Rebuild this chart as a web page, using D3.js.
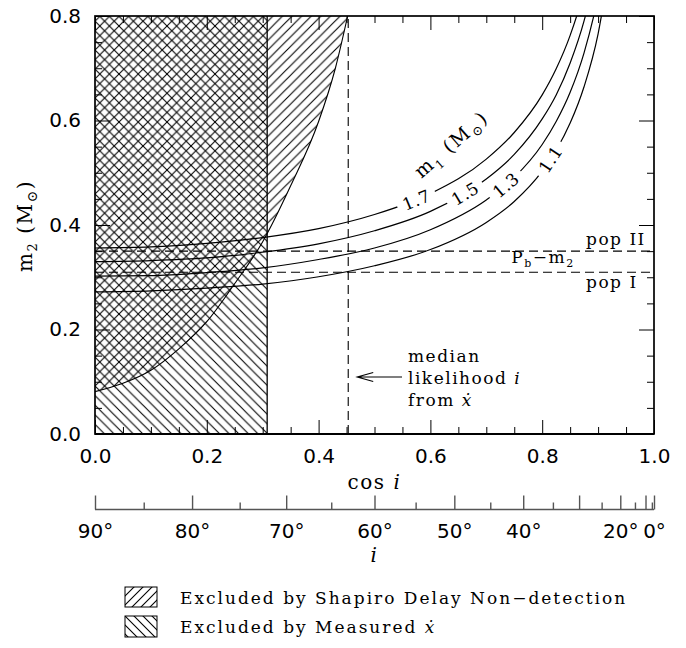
<!DOCTYPE html>
<html>
<head>
<meta charset="utf-8">
<script src="https://cdn.jsdelivr.net/npm/d3@7"></script>
<style>
  body { margin: 0; background: #fff; }
  .serif { font-family: "DejaVu Serif", serif; font-size: 17px; letter-spacing: 1.5px; fill: #000; }
  .tick text { font-family: "DejaVu Sans", sans-serif; font-size: 20px; fill: #000; }
  .tick line { stroke: #000; stroke-width: 1; }
</style>
</head>
<body>
<svg id="chart" width="686" height="648"></svg>
<script>
// ---- data ----
var cosGrid = [0, 0.1, 0.2, 0.3, 0.4, 0.5, 0.6, 0.7, 0.75, 0.8, 0.825, 0.85, 0.875, 0.9, 0.925];
var m2For11 = [0.272, 0.274, 0.279, 0.287, 0.301, 0.322, 0.353, 0.405, 0.445, 0.503, 0.543, 0.595, 0.665, 0.766, 0.930];
var m2For13 = [0.302, 0.303, 0.309, 0.318, 0.334, 0.356, 0.391, 0.448, 0.491, 0.554, 0.598, 0.654, 0.730, 0.839, 1.010];
var m2For15 = [0.330, 0.332, 0.337, 0.348, 0.364, 0.389, 0.426, 0.488, 0.535, 0.603, 0.649, 0.710, 0.791, 0.908, 1.096];
var m2For17 = [0.356, 0.358, 0.365, 0.376, 0.393, 0.420, 0.460, 0.526, 0.577, 0.649, 0.699, 0.763, 0.849, 0.974, 1.174];
var m1Names = ["1.1", "1.3", "1.5", "1.7"];
var m1LabelCos = [0.815, 0.735, 0.662, 0.575];

var shapiroCos = [0, 0.05, 0.10, 0.15, 0.20, 0.25, 0.30, 0.35, 0.40, 0.43, 0.452];
var shapiroM2 = [0.081, 0.097, 0.122, 0.163, 0.215, 0.288, 0.368, 0.475, 0.598, 0.700, 0.80];

var xdotCosMax = 0.308;   // excluded by measured xdot: cos i < this
var medianCos = 0.453;    // median likelihood i from xdot
var popII = 0.350;
var popI = 0.3095;

var xTicks = [0, 0.2, 0.4, 0.6, 0.8, 1.0];
var xMinor = [0.05, 0.1, 0.15, 0.25, 0.3, 0.35, 0.45, 0.5, 0.55, 0.65, 0.7, 0.75, 0.85, 0.9, 0.95];
var yTicks = [0, 0.2, 0.4, 0.6, 0.8];
var yMinor = [0.05, 0.1, 0.15, 0.25, 0.3, 0.35, 0.45, 0.5, 0.55, 0.65, 0.7, 0.75];
var iMajor = [90, 80, 70, 60, 50, 40, 30, 20, 10, 0];
var iMinor = [85, 75, 65, 55, 45, 35, 25, 15, 5];
var iLabelled = [90, 80, 70, 60, 50, 40, 20, 0];

// ---- layout ----
var svg = d3.select("#chart");
var plotL = 95, plotR = 654, plotT = 16, plotB = 434;

var x = d3.scaleLinear().domain([0, 1]).range([plotL, plotR]);
var y = d3.scaleLinear().domain([0, 0.8]).range([plotB, plotT]);
var rad = Math.PI / 180;

var defs = svg.append("defs");
defs.append("clipPath").attr("id", "plotClip")
  .append("rect").attr("x", plotL).attr("y", plotT).attr("width", plotR - plotL).attr("height", plotB - plotT);

// hatch patterns: dir 1 = "/", dir -1 = "\"
function hatch(id, dir, ox, oy, s) {
  var p = defs.append("pattern").attr("id", id)
    .attr("patternUnits", "userSpaceOnUse")
    .attr("x", ox).attr("y", oy).attr("width", s).attr("height", s);
  var d;
  if (dir > 0) {
    d = "M0," + s + "L" + s + ",0M-1,1L1,-1M" + (s - 1) + "," + (s + 1) + "L" + (s + 1) + "," + (s - 1);
  } else {
    d = "M0,0L" + s + "," + s + "M-1," + (s - 1) + "L1," + (s + 1) + "M" + (s - 1) + ",-1L" + (s + 1) + ",1";
  }
  p.append("path").attr("d", d).attr("stroke", "#000").attr("stroke-width", 1.1).attr("fill", "none");
}
hatch("hatchShapiro", 1, plotL, plotB, 9.6);
hatch("hatchXdot", -1, plotL, plotB, 9.6);
hatch("legShapiro", 1, 125, 587, 9);
hatch("legXdot", -1, 125, 616, 9);

var plot = svg.append("g").attr("clip-path", "url(#plotClip)");

// measured xdot exclusion
plot.append("rect")
  .attr("x", x(0)).attr("y", y(0.8))
  .attr("width", x(xdotCosMax) - x(0)).attr("height", y(0) - y(0.8))
  .attr("fill", "url(#hatchXdot)");
plot.append("line")
  .attr("x1", x(xdotCosMax)).attr("x2", x(xdotCosMax))
  .attr("y1", y(0)).attr("y2", y(0.8))
  .attr("stroke", "#000").attr("stroke-width", 1.3);

// Shapiro delay exclusion
var shapiroPts = shapiroCos.map(function(c, i) { return [c, shapiroM2[i]]; });
var line = d3.line()
  .x(function(d) { return x(d[0]); })
  .y(function(d) { return y(d[1]); })
  .curve(d3.curveMonotoneX);
plot.append("path")
  .attr("d", line(shapiroPts) + "L" + x(0) + "," + y(0.8) + "Z")
  .attr("fill", "url(#hatchShapiro)");
plot.append("path")
  .attr("d", line(shapiroPts))
  .attr("fill", "none").attr("stroke", "#000").attr("stroke-width", 1.1);

// dashed lines
plot.append("line")
  .attr("x1", x(medianCos)).attr("x2", x(medianCos))
  .attr("y1", y(0)).attr("y2", y(0.8))
  .attr("stroke", "#000").attr("stroke-width", 1.1).attr("stroke-dasharray", "9,5");
[popII, popI].forEach(function(v) {
  plot.append("line")
    .attr("x1", x(0)).attr("x2", x(1))
    .attr("y1", y(v)).attr("y2", y(v))
    .attr("stroke", "#000").attr("stroke-width", 1.1).attr("stroke-dasharray", "9,5");
});

// m1 curves
var series = [m2For11, m2For13, m2For15, m2For17];
series.forEach(function(vals, k) {
  var pts = cosGrid.map(function(c, i) { return [c, vals[i]]; });
  var path = plot.append("path")
    .attr("d", line(pts))
    .attr("fill", "none").attr("stroke", "#000").attr("stroke-width", 1.2);

  // put the label on the curve, following its slope
  var node = path.node(), L = node.getTotalLength(), tx = x(m1LabelCos[k]);
  var lo = 0, hi = L;
  for (var it = 0; it < 40; it++) {
    var mid = (lo + hi) / 2;
    if (node.getPointAtLength(mid).x < tx) lo = mid; else hi = mid;
  }
  var p = node.getPointAtLength(lo);
  var p1 = node.getPointAtLength(Math.max(0, lo - 4));
  var p2 = node.getPointAtLength(Math.min(L, lo + 4));
  var ang = Math.atan2(p2.y - p1.y, p2.x - p1.x) / rad;

  var g = svg.append("g").attr("transform", "translate(" + p.x + "," + p.y + ") rotate(" + ang + ")");
  var bg = g.append("rect").attr("fill", "#fff");
  var t = g.append("text").attr("class", "serif")
    .attr("text-anchor", "middle").attr("dy", "0.36em")
    .style("letter-spacing", "0.5px")
    .text(m1Names[k]);
  var w = t.node().getComputedTextLength() + 12;
  bg.attr("x", -w / 2).attr("y", -4).attr("width", w).attr("height", 8);
});

// m1 (Msun) label
var m1Lab = svg.append("text").attr("class", "serif")
  .attr("text-anchor", "middle")
  .attr("transform", "translate(" + x(0.645) + "," + y(0.545) + ") rotate(-41)")
  .style("font-size", "19px").style("letter-spacing", "2px");
m1Lab.append("tspan").text("m");
m1Lab.append("tspan").attr("dy", 5).style("font-size", "12px").text("1");
m1Lab.append("tspan").attr("dy", -5).text(" (M");
m1Lab.append("tspan").attr("dy", 5).style("font-size", "13px").text("\u2299");
m1Lab.append("tspan").attr("dy", -5).text(")");

// pop labels
svg.append("text").attr("class", "serif").attr("x", 586).attr("y", y(popII) - 6).text("pop II");
svg.append("text").attr("class", "serif").attr("x", 586).attr("y", y(popI) + 16).text("pop I");
var pbLab = svg.append("text").attr("class", "serif").attr("x", 543).attr("y", 263).attr("text-anchor", "middle");
pbLab.append("tspan").text("P");
pbLab.append("tspan").attr("dy", 4).style("font-size", "11px").text("b");
pbLab.append("tspan").attr("dy", -4).text("\u2212m");
pbLab.append("tspan").attr("dy", 4).style("font-size", "11px").text("2");

// median annotation + arrow
var ay = 377;
svg.append("path")
  .attr("d", "M402," + ay + "L" + (x(medianCos) + 9) + "," + ay +
             "M" + (x(medianCos) + 25) + "," + (ay - 4.5) + "L" + (x(medianCos) + 9) + "," + ay +
             "L" + (x(medianCos) + 25) + "," + (ay + 4.5))
  .attr("fill", "none").attr("stroke", "#000").attr("stroke-width", 1.1);
svg.append("text").attr("class", "serif").attr("x", 408).attr("y", 362).text("median");
var lk = svg.append("text").attr("class", "serif").attr("x", 408).attr("y", 384);
lk.append("tspan").text("likelihood ");
lk.append("tspan").style("font-style", "italic").text("i");
var fr = svg.append("text").attr("class", "serif").attr("x", 408).attr("y", 406);
fr.append("tspan").text("from ");
fr.append("tspan").style("font-style", "italic").text("\u1E8B");

// ---- axes ----
function styleAxis(g) { g.select(".domain").remove(); }

svg.append("g").attr("transform", "translate(0," + plotB + ")")
  .call(d3.axisBottom(x).tickValues(xTicks).tickSize(-14).tickPadding(15).tickFormat(d3.format(".1f")))
  .call(styleAxis);
svg.append("g").attr("transform", "translate(0," + plotB + ")")
  .call(d3.axisBottom(x).tickValues(xMinor).tickSize(-7).tickFormat(""))
  .call(styleAxis);
svg.append("g").attr("transform", "translate(0," + plotT + ")")
  .call(d3.axisTop(x).tickValues(xTicks).tickSize(-14).tickFormat(""))
  .call(styleAxis);
svg.append("g").attr("transform", "translate(0," + plotT + ")")
  .call(d3.axisTop(x).tickValues(xMinor).tickSize(-7).tickFormat(""))
  .call(styleAxis);
svg.append("g").attr("transform", "translate(" + plotL + ",0)")
  .call(d3.axisLeft(y).tickValues(yTicks).tickSize(-15).tickPadding(14).tickFormat(d3.format(".1f")))
  .call(styleAxis);
svg.append("g").attr("transform", "translate(" + plotL + ",0)")
  .call(d3.axisLeft(y).tickValues(yMinor).tickSize(-7).tickFormat(""))
  .call(styleAxis);
svg.append("g").attr("transform", "translate(" + plotR + ",0)")
  .call(d3.axisRight(y).tickValues(yTicks).tickSize(-15).tickFormat(""))
  .call(styleAxis);
svg.append("g").attr("transform", "translate(" + plotR + ",0)")
  .call(d3.axisRight(y).tickValues(yMinor).tickSize(-7).tickFormat(""))
  .call(styleAxis);

// frame
svg.append("rect")
  .attr("x", plotL).attr("y", plotT).attr("width", plotR - plotL).attr("height", plotB - plotT)
  .attr("fill", "none").attr("stroke", "#000").attr("stroke-width", 1.7);
svg.append("line").attr("x1", plotL).attr("x2", plotR).attr("y1", plotB).attr("y2", plotB)
  .attr("stroke", "#000").attr("stroke-width", 2.2);

// axis titles
var yt = svg.append("text").attr("class", "serif")
  .attr("transform", "translate(32," + 226 + ") rotate(-90)")
  .attr("text-anchor", "middle")
  .style("font-size", "20px").style("letter-spacing", "1.5px");
yt.append("tspan").text("m");
yt.append("tspan").attr("dy", 5).style("font-size", "13px").text("2");
yt.append("tspan").attr("dy", -5).text(" (M");
yt.append("tspan").attr("dy", 5).style("font-size", "14px").text("\u2299");
yt.append("tspan").attr("dy", -5).text(")");

var xt = svg.append("text").attr("class", "serif")
  .attr("x", x(0.5)).attr("y", 489).attr("text-anchor", "middle")
  .style("font-size", "20px").style("letter-spacing", "1.5px");
xt.append("tspan").text("cos ");
xt.append("tspan").style("font-style", "italic").text("i");

// inclination axis
var iy = 509.5;
var cosOf = function(d) { return Math.cos(d * rad); };
var iAxis = svg.append("g").attr("transform", "translate(0," + iy + ")")
  .call(d3.axisBottom(x).tickValues(iMajor.map(cosOf)).tickSize(-14).tickPadding(14)
    .tickFormat(function(c, i) { return iLabelled.indexOf(iMajor[i]) >= 0 ? iMajor[i] + "\u00B0" : ""; }))
  .call(styleAxis);
var iAxisMinor = svg.append("g").attr("transform", "translate(0," + iy + ")")
  .call(d3.axisBottom(x).tickValues(iMinor.map(cosOf)).tickSize(-7).tickFormat(""))
  .call(styleAxis);
iAxis.selectAll(".tick line").style("stroke", "#555").style("stroke-width", 1.4);
iAxisMinor.selectAll(".tick line").style("stroke", "#555").style("stroke-width", 1.4);
svg.append("line").attr("x1", plotL).attr("x2", plotR).attr("y1", iy).attr("y2", iy)
  .attr("stroke", "#555").attr("stroke-width", 1.6);

svg.append("text").attr("class", "serif")
  .attr("x", x(0.5)).attr("y", 562).attr("text-anchor", "middle")
  .style("font-size", "20px").style("font-style", "italic").text("i");

// legend
svg.append("rect").attr("x", 125).attr("y", 587).attr("width", 32).attr("height", 20)
  .attr("fill", "url(#legShapiro)").attr("stroke", "#000").attr("stroke-width", 1);
svg.append("rect").attr("x", 125).attr("y", 616).attr("width", 32).attr("height", 21)
  .attr("fill", "url(#legXdot)").attr("stroke", "#000").attr("stroke-width", 1);
svg.append("text").attr("class", "serif").attr("x", 180).attr("y", 604)
  .style("letter-spacing", "2px")
  .text("Excluded by Shapiro Delay Non\u2212detection");
var lg2 = svg.append("text").attr("class", "serif").attr("x", 180).attr("y", 633)
  .style("letter-spacing", "2px");
lg2.append("tspan").text("Excluded by Measured ");
lg2.append("tspan").style("font-style", "italic").text("\u1E8B");
</script>
</body>
</html>
